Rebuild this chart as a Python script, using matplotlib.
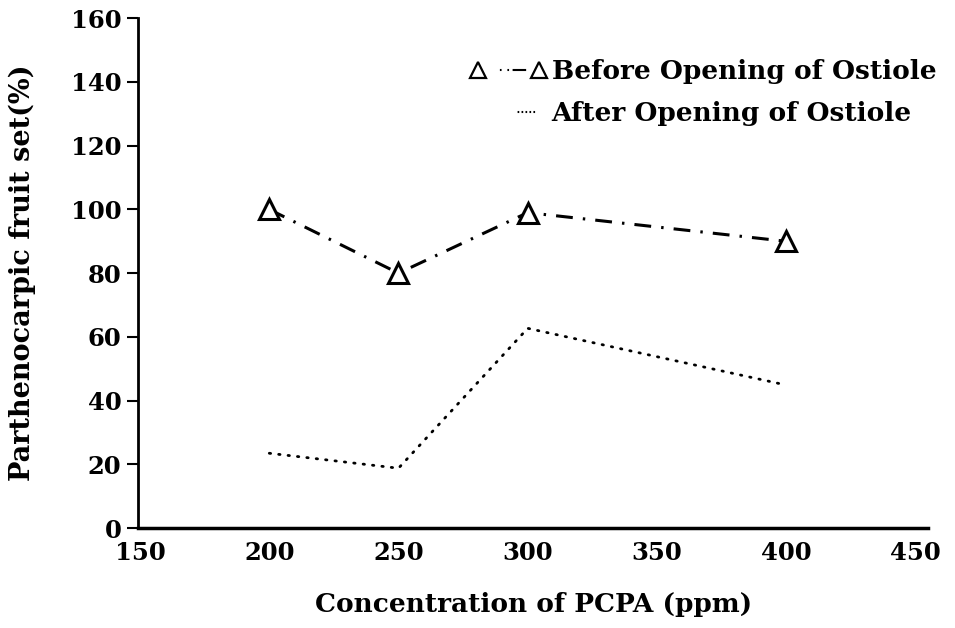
import matplotlib
matplotlib.use("Agg")
import matplotlib.pyplot as plt
from matplotlib.lines import Line2D

# values
conc = [200, 250, 300, 400]
before = [100, 80, 99, 90]
after = [23.5, 18.8, 62.7, 44.9]
yticks = [0, 20, 40, 60, 80, 100, 120, 140, 160]
xticks = [150, 200, 250, 300, 350, 400, 450]
labels = ['Before Opening of Ostiole', 'After Opening of Ostiole']

plt.rcParams['font.family'] = 'DejaVu Serif'
plt.rcParams['font.weight'] = 'bold'
plt.rcParams['axes.labelweight'] = 'bold'

fig = plt.figure(figsize=(9.55, 6.28), dpi=100)
ax = fig.add_axes([0.1445, 0.159, 0.8275, 0.812])

ax.plot(conc, before, color='black', lw=2.2, ls=(0, (5.5, 3.3, 0.8, 3.3)),
        marker='^', markersize=15, markerfacecolor='white',
        markeredgewidth=2.2, zorder=3)
ax.plot(conc, after, color='black', lw=2, ls=(0, (0.5, 2.9)),
        dash_capstyle='round')

ax.set_xlim(149.2, 455)
ax.set_ylim(0, 160)
ax.set_xticks(xticks)
ax.set_yticks(yticks)
ax.tick_params(axis='x', length=0, pad=9, labelsize=17.5)
ax.tick_params(axis='y', length=8, width=1.5, direction='out', pad=4, labelsize=17.5)
for s in ['top', 'right']:
    ax.spines[s].set_visible(False)
ax.spines['left'].set_linewidth(2)
ax.spines['bottom'].set_linewidth(2.5)

ax.set_xlabel('Concentration of PCPA (ppm)', fontsize=19, labelpad=20)
ax.set_ylabel('Parthenocarpic fruit set(%)', fontsize=19.5, labelpad=25)

# legend handles: dash-dot between two triangles, short dotted run
h1 = Line2D([], [], color='black', lw=1.5,
            ls=(0, (0.01, 10.5, 0.8, 2.8, 0.8, 1.7, 6.5, 20)),
            marker='^', markersize=11, markerfacecolor='white', markeredgewidth=1.6)
h2 = Line2D([], [], color='black', lw=1.5, dash_capstyle='butt',
            ls=(0, (0.001, 19, 0.8, 1.1, 0.8, 1.1, 0.8, 1.1, 0.8, 1.1, 0.8, 20)))
leg = ax.legend([h1, h2], labels, loc='upper left', bbox_to_anchor=(0.42, 0.92),
                frameon=False, numpoints=2, fontsize=19, handlelength=2.9,
                handletextpad=0.2, labelspacing=0.65, borderpad=0,
                borderaxespad=0)

fig.savefig('out.png', dpi=100)
